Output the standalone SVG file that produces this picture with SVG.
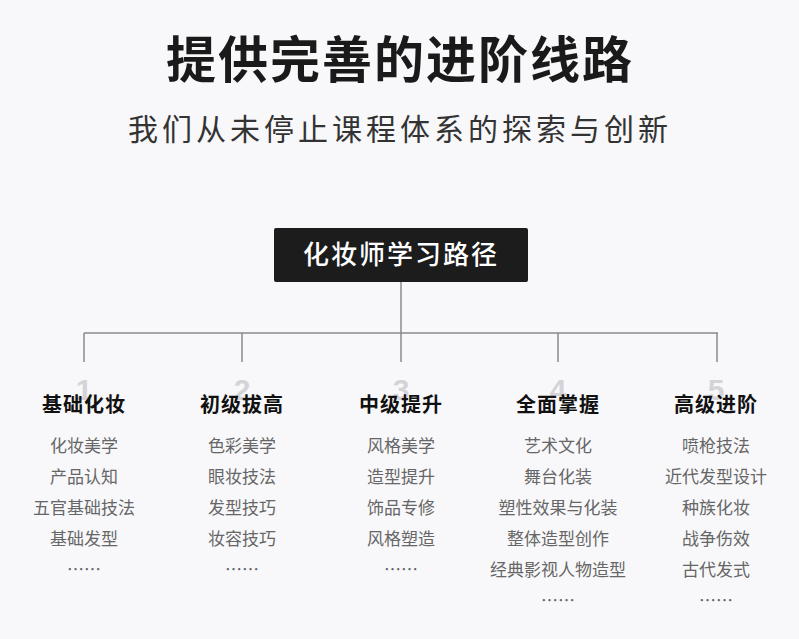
<svg xmlns="http://www.w3.org/2000/svg" width="799" height="639" viewBox="0 0 799 639">
<style>
text{font-family:"Noto Sans CJK SC","Liberation Sans",sans-serif;text-anchor:middle}
.t{font-size:50px;font-weight:bold;fill:#1a1a1a;letter-spacing:2px}
.s{font-size:30px;fill:#333;letter-spacing:4px}
.r{font-size:26px;fill:#fff;font-weight:500;letter-spacing:2px}
.n{font-size:30px;font-weight:bold;fill:#d4d4d8;font-family:"Liberation Sans",sans-serif}
.h{font-size:20px;font-weight:bold;fill:#111;letter-spacing:1px}
.i{font-size:17px;fill:#666}
.c{stroke:#8a8a8a;stroke-width:1.5;fill:none}
</style>
<rect width="799" height="639" fill="#f8f8fa"/>
<text class="t" x="400" y="78">提供完善的进阶线路</text>
<text class="s" x="400" y="140">我们从未停止课程体系的探索与创新</text>
<g id="root"><rect x="274" y="228" width="254" height="54" rx="2" fill="#1c1c1c"/><text class="r" x="401" y="264">化妆师学习路径</text></g>
<g id="connectors">
<path class="c" d="M401 282V333M84 333H718M84 333V362M242 333V362M401 333V362M558 333V362M717 333V362"/>
</g>
<g id="c1"><text class="n" x="84" y="400">1</text><text class="h" x="84" y="412">基础化妆</text>
<text class="i" x="84" y="452">化妆美学</text><text class="i" x="84" y="483">产品认知</text><text class="i" x="84" y="514">五官基础技法</text><text class="i" x="84" y="545">基础发型</text><text class="i" x="84" y="576">……</text></g>
<g id="c2"><text class="n" x="242" y="400">2</text><text class="h" x="242" y="412">初级拔高</text>
<text class="i" x="242" y="452">色彩美学</text><text class="i" x="242" y="483">眼妆技法</text><text class="i" x="242" y="514">发型技巧</text><text class="i" x="242" y="545">妆容技巧</text><text class="i" x="242" y="576">……</text></g>
<g id="c3"><text class="n" x="401" y="400">3</text><text class="h" x="401" y="412">中级提升</text>
<text class="i" x="401" y="452">风格美学</text><text class="i" x="401" y="483">造型提升</text><text class="i" x="401" y="514">饰品专修</text><text class="i" x="401" y="545">风格塑造</text><text class="i" x="401" y="576">……</text></g>
<g id="c4"><text class="n" x="558" y="400">4</text><text class="h" x="558" y="412">全面掌握</text>
<text class="i" x="558" y="452">艺术文化</text><text class="i" x="558" y="483">舞台化装</text><text class="i" x="558" y="514">塑性效果与化装</text><text class="i" x="558" y="545">整体造型创作</text><text class="i" x="558" y="576">经典影视人物造型</text><text class="i" x="558" y="607">……</text></g>
<g id="c5"><text class="n" x="716" y="400">5</text><text class="h" x="716" y="412">高级进阶</text>
<text class="i" x="716" y="452">喷枪技法</text><text class="i" x="716" y="483">近代发型设计</text><text class="i" x="716" y="514">种族化妆</text><text class="i" x="716" y="545">战争伤效</text><text class="i" x="716" y="576">古代发式</text><text class="i" x="716" y="607">……</text></g>
</svg>
